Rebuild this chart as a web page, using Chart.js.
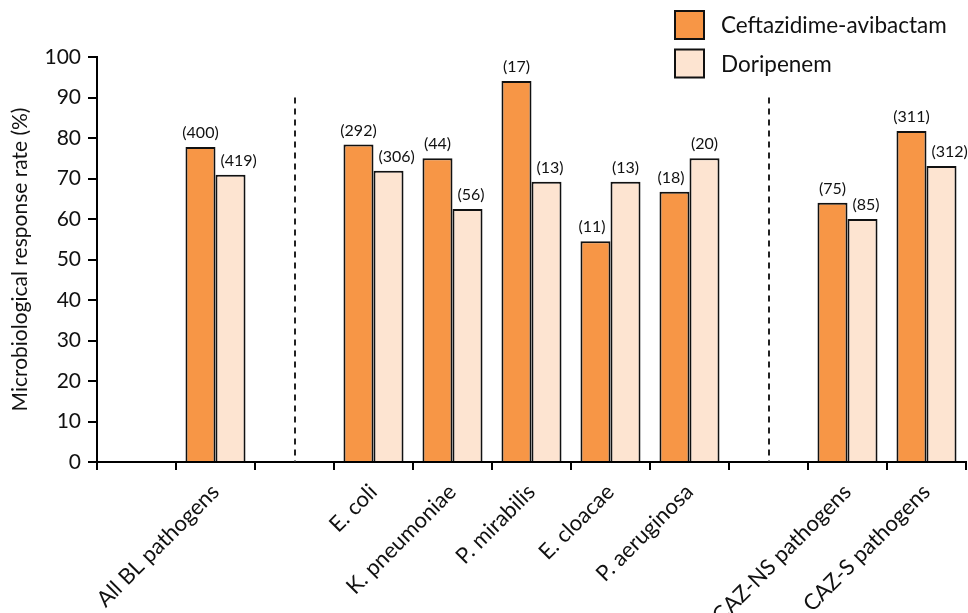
<!DOCTYPE html>
<html>
<head>
<meta charset="utf-8">
<script src="https://cdn.jsdelivr.net/npm/chart.js@4"></script>
<style>
  html, body { margin: 0; padding: 0; background: #fff; }
  #wrap { width: 968px; height: 613px; }
</style>
</head>
<body>
<div id="wrap"><canvas id="chart" width="968" height="613"></canvas></div>
<script>
// Pathogen groups; empty slots leave space for the group dividers
const categories = ['', 'All BL pathogens', '', 'E. coli', 'K. pneumoniae', 'P. mirabilis',
  'E. cloacae', 'P. aeruginosa', '', 'CAZ-NS pathogens', 'CAZ-S pathogens'];

// Microbiological response rate (%)
const cazAvi    = [null, 77.8, null, 78.4, 75.0, 94.1, 54.5, 66.7, null, 64.0, 81.7];
const doripenem = [null, 70.9, null, 71.9, 62.5, 69.2, 69.2, 75.0, null, 60.0, 73.1];

// Number of patients per bar
const cazAviN    = [null, 400, null, 292, 44, 17, 11, 18, null, 75, 311];
const doripenemN = [null, 419, null, 306, 56, 13, 13, 20, null, 85, 312];

const seriesNames = ['Ceftazidime-avibactam', 'Doripenem'];
const dividerSlots = [2, 8];
const dividerTop = 90;
const yMin = 0, yMax = 100, yStep = 10;

const FONT = 'Lato, "Open Sans", sans-serif';
const ORANGE = '#F79646';
const PEACH = '#FDE4D1';
const EDGE = '#111';

// Dashed separators between pathogen groups
const dividers = {
  id: 'dividers',
  beforeDatasetsDraw(chart) {
    const { ctx, scales: { x, y } } = chart;
    ctx.save();
    ctx.strokeStyle = '#222';
    ctx.lineWidth = 2;
    ctx.setLineDash([6, 5]);
    dividerSlots.forEach(i => {
      const px = Math.round(x.getPixelForValue(i));
      ctx.beginPath();
      ctx.moveTo(px, y.getPixelForValue(dividerTop));
      ctx.lineTo(px, y.getPixelForValue(0));
      ctx.stroke();
    });
    ctx.restore();
  }
};

// "(n)" labels above each bar, nudged sideways when they would touch the neighbouring bar
const countLabels = {
  id: 'countLabels',
  afterDatasetsDraw(chart) {
    const { ctx } = chart;
    const counts = [cazAviN, doripenemN];
    const m0 = chart.getDatasetMeta(0).data;
    const m1 = chart.getDatasetMeta(1).data;
    ctx.save();
    ctx.font = '16px ' + FONT;
    ctx.fillStyle = '#111';
    ctx.textBaseline = 'middle';
    ctx.textAlign = 'left';
    categories.forEach((c, i) => {
      [0, 1].forEach(d => {
        const n = counts[d][i];
        if (n == null) return;
        const bar = (d === 0 ? m0 : m1)[i];
        const other = (d === 0 ? m1 : m0)[i];
        const text = '(' + n + ')';
        const w = ctx.measureText(text).width;
        const cy = bar.y - 14;
        let left = bar.x - w / 2;
        const half = bar.width / 2;
        const overlapsY = cy + 8 > other.y;
        if (overlapsY) {
          if (d === 1 && left < other.x + half + 5) left = other.x + half + 5;
          if (d === 0 && left + w > other.x - half - 5) left = other.x - half - 5 - w;
        }
        ctx.fillText(text, left, cy);
      });
    });
    ctx.restore();
  }
};

// Legend in the top-right corner
const cornerLegend = {
  id: 'cornerLegend',
  afterDraw(chart) {
    const { ctx } = chart;
    ctx.save();
    ctx.font = '22.5px ' + FONT;
    ctx.textBaseline = 'middle';
    ctx.textAlign = 'left';
    chart.data.datasets.forEach((ds, k) => {
      const top = 11 + k * 38.5;
      ctx.fillStyle = ds.backgroundColor;
      ctx.fillRect(675, top, 29, 28);
      ctx.strokeStyle = EDGE;
      ctx.lineWidth = 2;
      ctx.strokeRect(675, top, 29, 28);
      ctx.fillStyle = '#111';
      ctx.fillText(ds.label, 721, top + 15);
    });
    ctx.restore();
  }
};

new Chart(document.getElementById('chart'), {
  type: 'bar',
  data: {
    labels: categories,
    datasets: [
      { label: seriesNames[0], data: cazAvi, backgroundColor: ORANGE, borderColor: EDGE, borderWidth: 2 },
      { label: seriesNames[1], data: doripenem, backgroundColor: PEACH, borderColor: EDGE, borderWidth: 2 }
    ]
  },
  options: {
    responsive: false,
    animation: false,
    devicePixelRatio: 1,
    layout: { padding: { left: 0, right: 2, top: 57, bottom: 0 } },
    datasets: { bar: { categoryPercentage: 0.76, barPercentage: 1.0 } },
    plugins: { legend: { display: false }, tooltip: { enabled: false } },
    scales: {
      x: {
        offset: true,
        afterFit(s) { s.height = 151; },
        grid: { offset: true, drawOnChartArea: false, drawTicks: true, tickLength: 8, color: '#000', lineWidth: 2 },
        border: { display: true, color: '#000', width: 2 },
        ticks: { autoSkip: false, minRotation: 45, maxRotation: 45, padding: 9,
          color: '#111', font: { family: FONT, size: 22 } }
      },
      y: {
        min: yMin, max: yMax,
        afterFit(s) { s.width = 97; },
        grid: { drawOnChartArea: false, drawTicks: true, tickLength: 9, color: '#000', lineWidth: 2 },
        border: { display: true, color: '#000', width: 2 },
        ticks: { stepSize: yStep, padding: 7, color: '#111', font: { family: FONT, size: 21 } },
        title: { display: true, text: 'Microbiological response rate (%)', color: '#111',
          font: { family: FONT, size: 21 }, padding: { top: 8, bottom: 0 } }
      }
    }
  },
  plugins: [dividers, countLabels, cornerLegend]
});
</script>
</body>
</html>
